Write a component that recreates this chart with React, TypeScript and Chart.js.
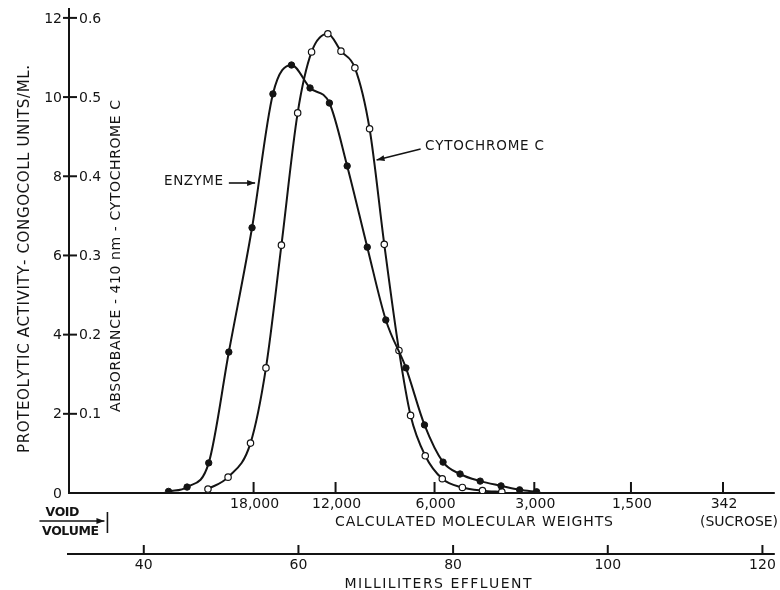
import React, { useEffect, useRef } from "react";
import { Chart, registerables } from "chart.js";

Chart.register(...registerables);

// ---- data ----
const enzymeMl = [43.2, 45.6, 48.4, 51.0, 54.0, 56.7, 59.1, 61.5, 64.0, 66.3, 68.9, 71.3, 73.9, 76.3, 78.7, 80.9, 83.5, 86.2, 88.6, 90.8];
const enzymeActivity = [0.04, 0.15, 0.76, 3.56, 6.7, 10.08, 10.81, 10.23, 9.85, 8.26, 6.21, 4.37, 3.16, 1.72, 0.78, 0.48, 0.3, 0.18, 0.08, 0.03];

const cytoMl = [48.3, 50.9, 53.8, 55.8, 57.8, 59.9, 61.7, 63.8, 65.5, 67.3, 69.2, 71.1, 73.0, 74.5, 76.4, 78.6, 81.2, 83.8, 86.3];
const cytoAbsorbance = [0.005, 0.02, 0.063, 0.158, 0.313, 0.48, 0.557, 0.58, 0.558, 0.537, 0.46, 0.314, 0.18, 0.098, 0.047, 0.018, 0.007, 0.003, 0.0015];

const activityTicks = [0, 2, 4, 6, 8, 10, 12];
const absorbanceTicks = [0.1, 0.2, 0.3, 0.4, 0.5, 0.6];
const absorbanceLabels = ["0.1", "0.2", "0.3", "0.4", "0.5", "0.6"];

const mwTickMl = [54.2, 64.8, 77.6, 90.5, 103.0, 114.9];
const mwLabels = ["18,000", "12,000", "6,000", "3,000", "1,500", "342"];

const mlTicks = [40, 60, 80, 100, 120];
const voidVolumeMl = 35.3;

const INK = "#141414";
const FONT = '"DejaVu Sans", "Liberation Sans", sans-serif';

function spacedText(ctx: CanvasRenderingContext2D, text: string, cx: number, cy: number, target?: number) {
  const chars = Array.from(text);
  const widths = chars.map((c) => ctx.measureText(c).width);
  const natural = widths.reduce((a, b) => a + b, 0);
  const extra = target && chars.length > 1 ? (target - natural) / (chars.length - 1) : 0;
  const total = natural + extra * (chars.length - 1);
  let x = cx - total / 2;
  ctx.textAlign = "left";
  ctx.textBaseline = "middle";
  chars.forEach((c, i) => {
    ctx.fillText(c, x, cy);
    x += widths[i] + extra;
  });
}

function seg(ctx: CanvasRenderingContext2D, x1: number, y1: number, x2: number, y2: number) {
  ctx.beginPath();
  ctx.moveTo(x1, y1);
  ctx.lineTo(x2, y2);
  ctx.stroke();
}

function arrow(ctx: CanvasRenderingContext2D, x1: number, y1: number, x2: number, y2: number) {
  seg(ctx, x1, y1, x2, y2);
  const ang = Math.atan2(y2 - y1, x2 - x1);
  const L = 8, W = 3;
  ctx.beginPath();
  ctx.moveTo(x2, y2);
  ctx.lineTo(x2 - L * Math.cos(ang) + W * Math.sin(ang), y2 - L * Math.sin(ang) - W * Math.cos(ang));
  ctx.lineTo(x2 - L * Math.cos(ang) - W * Math.sin(ang), y2 - L * Math.sin(ang) + W * Math.cos(ang));
  ctx.closePath();
  ctx.fill();
}

const figurePlugin = {
  id: "figure",
  beforeDraw(chart: any) {
    const { ctx, width, height } = chart;
    ctx.save();
    ctx.fillStyle = "#fff";
    ctx.fillRect(0, 0, width, height);
    ctx.restore();
  },
  beforeDatasetsDraw(chart: any) {
    const { ctx, chartArea: a, scales } = chart;
    const x = scales.x, y = scales.y, y1 = scales.y1;
    ctx.save();
    ctx.strokeStyle = INK;
    ctx.fillStyle = INK;
    ctx.lineWidth = 2;
    ctx.lineCap = "butt";

    // axes
    seg(ctx, a.left, a.top, a.left, a.bottom + 1);
    seg(ctx, a.left - 1, a.bottom, a.right, a.bottom);

    // y ticks (crossing the axis) and labels
    ctx.font = `14px ${FONT}`;
    activityTicks.forEach((v) => {
      const py = y.getPixelForValue(v);
      if (v !== 0) seg(ctx, a.left - 6, py, a.left + 8, py);
      ctx.textAlign = "right";
      ctx.textBaseline = "middle";
      ctx.fillText(String(v), a.left - 7, py + 1);
    });
    absorbanceTicks.forEach((v, i) => {
      const py = y1.getPixelForValue(v);
      ctx.textAlign = "left";
      ctx.textBaseline = "middle";
      ctx.fillText(absorbanceLabels[i], a.left + 10, py + 1);
    });

    // molecular weight ticks on the main axis
    mwTickMl.forEach((m, i) => {
      const px = x.getPixelForValue(m);
      seg(ctx, px, a.bottom - 11, px, a.bottom);
      ctx.textAlign = "center";
      ctx.textBaseline = "middle";
      ctx.fillText(mwLabels[i], px + 1, a.bottom + 11);
    });

    // milliliters axis
    const mlY = a.bottom + 61;
    seg(ctx, a.left - 2, mlY, a.right, mlY);
    mlTicks.forEach((m) => {
      const px = x.getPixelForValue(m);
      seg(ctx, px, mlY - 9, px, mlY);
      ctx.textAlign = "center";
      ctx.textBaseline = "middle";
      ctx.fillText(String(m), px, mlY + 11);
    });

    // void volume marker
    const vx = x.getPixelForValue(voidVolumeMl);
    ctx.lineWidth = 1.6;
    seg(ctx, vx, a.bottom + 19, vx, a.bottom + 40);
    arrow(ctx, vx - 68, a.bottom + 28, vx - 3, a.bottom + 28);
    ctx.font = `bold 12.5px ${FONT}`;
    spacedText(ctx, "VOID", vx - 45, a.bottom + 20, 34);
    spacedText(ctx, "VOLUME", vx - 37, a.bottom + 39, 57);

    ctx.restore();
  },
  afterDatasetsDraw(chart: any) {
    const { ctx, chartArea: a, scales } = chart;
    const x = scales.x, y = scales.y;
    ctx.save();
    ctx.strokeStyle = INK;
    ctx.fillStyle = INK;
    ctx.lineWidth = 1.6;

    // axis titles
    ctx.font = `15px ${FONT}`;
    ctx.save();
    ctx.translate(25, 259);
    ctx.rotate(-Math.PI / 2);
    spacedText(ctx, "PROTEOLYTIC ACTIVITY- CONGOCOLL UNITS/ML.", 0, 0, 388);
    ctx.restore();

    ctx.font = `14px ${FONT}`;
    ctx.save();
    ctx.translate(116, 256);
    ctx.rotate(-Math.PI / 2);
    spacedText(ctx, "ABSORBANCE - 410 nm - CYTOCHROME C", 0, 0, 312);
    ctx.restore();

    spacedText(ctx, "CALCULATED MOLECULAR WEIGHTS", 474, a.bottom + 29, 278);
    spacedText(ctx, "(SUCROSE)", 739, a.bottom + 29, 78);
    spacedText(ctx, "MILLILITERS EFFLUENT", 438, a.bottom + 91, 187);

    // curve labels
    ctx.font = `13.5px ${FONT}`;
    spacedText(ctx, "ENZYME", x.getPixelForValue(46.44), y.getPixelForValue(7.88), 59);
    arrow(ctx, x.getPixelForValue(51.0), y.getPixelForValue(7.83), x.getPixelForValue(54.4), y.getPixelForValue(7.83));
    spacedText(ctx, "CYTOCHROME C", x.getPixelForValue(84.06), y.getPixelForValue(8.74), 119);
    arrow(ctx, x.getPixelForValue(75.8), y.getPixelForValue(8.69), x.getPixelForValue(70.1), y.getPixelForValue(8.41));

    ctx.restore();
  },
};

export default function App() {
  const ref = useRef<HTMLCanvasElement>(null);
  useEffect(() => {
    const canvas = ref.current;
    if (!canvas) return;
    const chart = new Chart(canvas, {
      type: "line",
      data: {
        datasets: [
          {
            label: "Enzyme",
            data: enzymeMl.map((m, i) => ({ x: m, y: enzymeActivity[i] })),
            yAxisID: "y",
            borderColor: INK,
            borderWidth: 2,
            cubicInterpolationMode: "monotone",
            fill: false,
            pointRadius: 3.2,
            pointBackgroundColor: INK,
            pointBorderColor: INK,
            pointBorderWidth: 1,
          },
          {
            label: "Cytochrome C",
            data: cytoMl.map((m, i) => ({ x: m, y: cytoAbsorbance[i] })),
            yAxisID: "y1",
            borderColor: INK,
            borderWidth: 2,
            cubicInterpolationMode: "monotone",
            fill: false,
            pointRadius: 3.2,
            pointBackgroundColor: "#ffffff",
            pointBorderColor: INK,
            pointBorderWidth: 1.2,
          },
        ],
      },
      options: {
        responsive: false,
        animation: false,
        events: [],
        layout: { padding: { left: 69, top: 8, right: 0, bottom: 97 } },
        scales: {
          x: { type: "linear", min: 30.33, max: 121.6, display: false },
          y: { type: "linear", min: 0, max: 12.25, display: false },
          y1: { type: "linear", min: 0, max: 0.6125, display: false },
        },
        plugins: { legend: { display: false }, tooltip: { enabled: false } },
      },
      plugins: [figurePlugin],
    });
    return () => chart.destroy();
  }, []);
  return (
    <div style={{ position: "fixed", left: 0, top: 0, width: 780, height: 590, background: "#fff" }}>
      <canvas ref={ref} width={780} height={590} style={{ width: 780, height: 590, display: "block" }} />
    </div>
  );
}
